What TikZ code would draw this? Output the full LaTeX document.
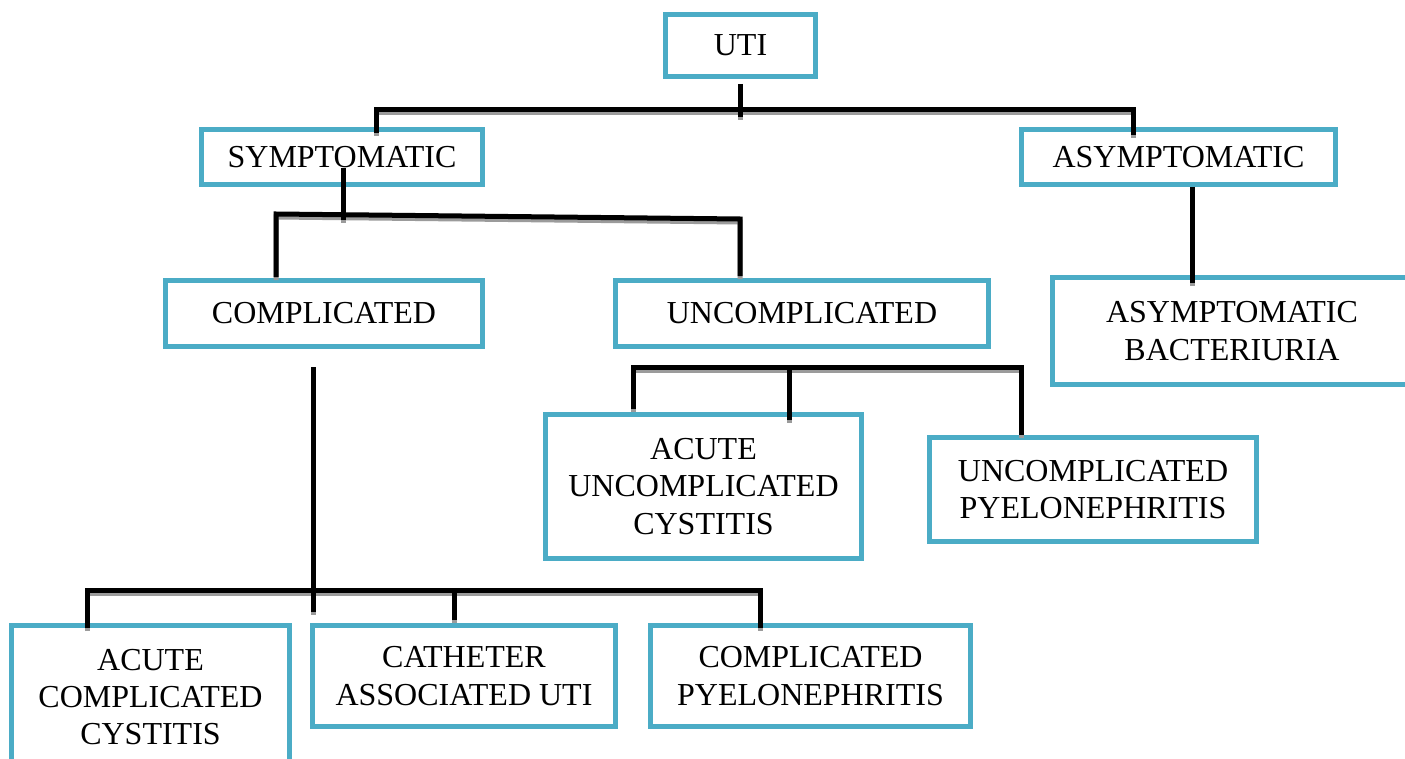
\documentclass[tikz,border=0pt]{standalone}
\usepackage{fontspec}
\setmainfont{Liberation Serif}
\definecolor{boxc}{RGB}{75,172,198}
\definecolor{shadowc}{RGB}{155,155,155}
\newcommand\mybox[6]{\node[box,minimum width={(#4-#2-5)*0.75pt},minimum height={(#5-#3-5)*0.75pt}] (#1) at ({(#2+#4)/2},{(#3+#5)/2}) {#6};}
\newcommand\allconn{%
  \draw[cl] (u0) -- (u1);
  \draw[cl] (s0) -- (s1) -- (a1) -- (a0);
  \draw[cl] (sv0) -- (sv1);
  \draw[cl] (c0) -- (c1) -- (uc1) -- (uc0);
  \draw[cl] (as0) -- (ab0);
  \draw[cl] (cv0) -- (cv1);
  \draw[cl] (acc0) -- (acc1) -- (cp1) -- (cp0);
  \draw[cl] (ca1) -- (ca0);
  \draw[cl] (auc0) -- (auc1) -- (up1) -- (up0);
  \draw[cl] (m1) -- (m0);
}
\begin{document}
\begin{tikzpicture}[x=0.75pt,y=-0.75pt,
  box/.style={draw=boxc,line width=3.75pt,fill=white,inner sep=0pt,align=center,
    font=\fontsize{24}{28}\selectfont},
  conn/.style={draw=black,line width=3.75pt},
  shade/.style={draw=shadowc,line width=3.75pt}]
\useasboundingbox (0,0) rectangle (1405,759);
\clip (0,0) rectangle (1405,759);
\fill[white] (0,0) rectangle (1405,759);

\mybox{uti}{663}{12}{818}{79}{UTI}
\mybox{sym}{199}{127}{485}{187}{SYMPTOMATIC}
\mybox{asym}{1019}{127}{1338}{187}{ASYMPTOMATIC}
\mybox{comp}{163}{278}{485}{349}{COMPLICATED}
\mybox{uncomp}{613}{278}{991}{349}{UNCOMPLICATED}
\mybox{ab}{1050}{275}{1414}{387}{ASYMPTOMATIC\\BACTERIURIA}
\mybox{auc}{543}{412}{864}{561}{ACUTE\\UNCOMPLICATED\\CYSTITIS}
\mybox{upy}{927}{435}{1259}{544}{UNCOMPLICATED\\PYELONEPHRITIS}
\mybox{acc}{9}{623}{292}{771}{ACUTE\\COMPLICATED\\CYSTITIS}
\mybox{cau}{310}{623}{618}{729}{CATHETER\\ASSOCIATED UTI}
\mybox{cpy}{648}{623}{973}{729}{COMPLICATED\\PYELONEPHRITIS}

% connector points
\coordinate (u0) at (740,84);   \coordinate (u1) at (740,117);
\coordinate (s0) at (376,133);  \coordinate (s1) at (376,110);
\coordinate (a1) at (1133,110); \coordinate (a0) at (1133,135);
\coordinate (sv0) at (343,168); \coordinate (sv1) at (343,220);
\coordinate (c0) at (276,277);  \coordinate (c1) at (276,214);
\coordinate (uc1) at (740,219); \coordinate (uc0) at (740,276);
\coordinate (as0) at (1192,187); \coordinate (ab0) at (1192,283);
\coordinate (cv0) at (313,367); \coordinate (cv1) at (313,612);
\coordinate (acc0) at (87,628); \coordinate (acc1) at (87,590);
\coordinate (cp1) at (760,590); \coordinate (cp0) at (760,628);
\coordinate (ca1) at (454,590); \coordinate (ca0) at (454,620);
\coordinate (auc0) at (633,409); \coordinate (auc1) at (633,367);
\coordinate (up1) at (1021,367); \coordinate (up0) at (1021,435);
\coordinate (m1) at (789,367);  \coordinate (m0) at (789,420);

\begin{scope}[transform canvas={yshift=-2.25pt},cl/.style={shade}]
\allconn
\end{scope}
\begin{scope}[cl/.style={conn}]
\allconn
\end{scope}
\end{tikzpicture}
\end{document}
